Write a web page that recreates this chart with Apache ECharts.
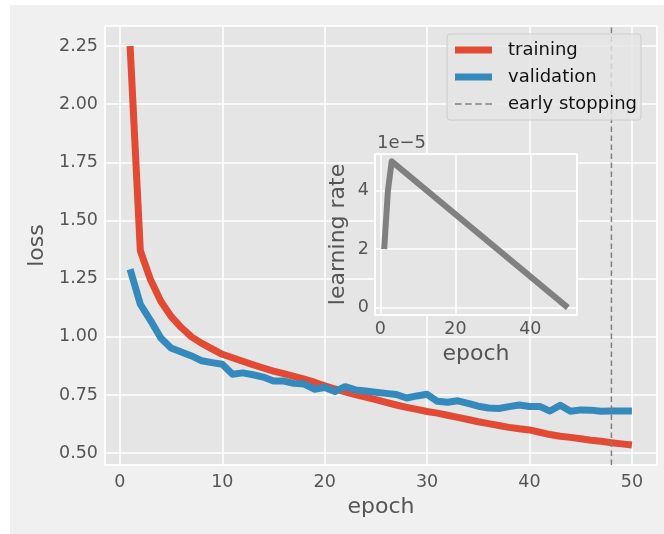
<!DOCTYPE html>
<html>
<head>
<meta charset="utf-8">
<script src="https://cdn.jsdelivr.net/npm/echarts@6/dist/echarts.min.js"></script>
<style>html,body{margin:0;padding:0;background:#fff}#chart{width:664px;height:534px}</style>
</head>
<body>
<div id="chart"></div>
<script>
const epochs = [1,2,3,4,5,6,7,8,9,10,11,12,13,14,15,16,17,18,19,20,21,22,23,24,25,26,27,28,29,30,31,32,33,34,35,36,37,38,39,40,41,42,43,44,45,46,47,48,49,50];
const trainingLoss = [2.25,1.37,1.245,1.153,1.088,1.04,1.0,0.972,0.948,0.925,0.91,0.895,0.88,0.866,0.853,0.842,0.83,0.818,0.805,0.79,0.776,0.764,0.752,0.741,0.73,0.718,0.707,0.697,0.688,0.679,0.672,0.663,0.654,0.645,0.635,0.627,0.619,0.611,0.605,0.6,0.59,0.58,0.573,0.568,0.562,0.556,0.551,0.545,0.54,0.535];
const validationLoss = [1.29,1.14,1.07,0.995,0.952,0.935,0.918,0.897,0.889,0.882,0.839,0.845,0.837,0.827,0.81,0.81,0.8,0.797,0.775,0.782,0.765,0.786,0.772,0.767,0.762,0.757,0.752,0.737,0.746,0.753,0.723,0.719,0.725,0.714,0.702,0.694,0.692,0.7,0.707,0.701,0.701,0.681,0.706,0.68,0.686,0.685,0.68,0.681,0.681,0.681];
const earlyStopEpoch = 48;
const lrEpochs = [1,2,3,50];
const lrValues = [2.0,4.0,5.0,0.0]; // x 1e-5
const lossXTicks = [0,10,20,30,40,50];
const lossYTicks = [0.50,0.75,1.00,1.25,1.50,1.75,2.00,2.25];
const lrXTicks = [0,20,40];
const lrYTicks = [0,2,4];
const lrOffsetText = '1e\u22125';
const seriesNames = ['training','validation','early stopping'];

const FONT = 'DejaVu Sans';
const TXT = '#555555';
function pad(lo, hi){ const m = (hi-lo)*0.05; return [lo-m, hi+m]; }
const xExt = pad(Math.min(...epochs), Math.max(...epochs));
const yExt = pad(Math.min(...trainingLoss, ...validationLoss), Math.max(...trainingLoss, ...validationLoss));
const lrXExt = pad(Math.min(...lrEpochs), Math.max(...lrEpochs));
const lrYExt = pad(Math.min(...lrValues), Math.max(...lrValues));
const has = (arr, v) => arr.some(t => Math.abs(t - v) < 1e-6);

const chart = echarts.init(document.getElementById('chart'), null, {renderer:'canvas'});
const splitLine = {show:true, lineStyle:{color:'#ffffff', width:1.5}};
const option = {
  backgroundColor:'#ffffff',
  animation:false,
  textStyle:{fontFamily:FONT},
  graphic:[
    {type:'rect', left:10, top:5, z:-100, shape:{width:654, height:529}, style:{fill:'#F0F0F0'}},
    {type:'text', x:377, y:143.5, z:20, style:{text:lrOffsetText, fill:TXT, font:'18px "DejaVu Sans"', align:'left', verticalAlign:'middle'}}
  ],
  grid:[
    {left:105, top:26, width:552, height:439, show:true, backgroundColor:'#E5E5E5', borderColor:'#ffffff', borderWidth:1, z:0},
    {left:375, top:154, width:202, height:161, show:true, backgroundColor:'#E5E5E5', borderColor:'#ffffff', borderWidth:1.5, z:5}
  ],
  legend:{
    orient:'vertical', left:447, top:34,
    padding:[7,4,7,8], itemGap:9, itemWidth:37, itemHeight:14,
    backgroundColor:'rgba(229,229,229,0.8)', borderColor:'#cccccc', borderWidth:1, borderRadius:3,
    itemStyle:{borderWidth:0},
    textStyle:{fontSize:18, color:'#111111', fontFamily:FONT, padding:[0,0,0,11]},
    data:[
      {name:seriesNames[0], icon:'path://M0,0h37v7h-37z'},
      {name:seriesNames[1], icon:'path://M0,0h37v7h-37z'},
      {name:seriesNames[2], icon:'path://M0,0h6.5v1.5h-6.5zM10,0h6.5v1.5h-6.5zM20,0h6.5v1.5h-6.5zM30,0h6.5v1.5h-6.5z'}
    ],
    z:30
  },
  xAxis:[
    {type:'value', gridIndex:0, min:xExt[0], max:xExt[1], splitNumber:5, minInterval:10, maxInterval:10,
     axisLine:{show:false}, axisTick:{show:false}, splitLine:splitLine,
     axisLabel:{color:TXT, fontSize:17.5, fontFamily:FONT, margin:8, showMinLabel:true, showMaxLabel:true,
       formatter:v => has(lossXTicks, v) ? String(Math.round(v)) : ''},
     name:'epoch', nameLocation:'middle', nameGap:30, nameTextStyle:{color:TXT, fontSize:22, fontFamily:FONT}},
    {type:'value', gridIndex:1, min:lrXExt[0], max:lrXExt[1], splitNumber:3, minInterval:20, maxInterval:20, z:6,
     axisLine:{show:false}, axisTick:{show:false}, splitLine:splitLine,
     axisLabel:{color:TXT, fontSize:17.5, fontFamily:FONT, margin:5,
       formatter:v => has(lrXTicks, v) ? String(Math.round(v)) : ''},
     name:'epoch', nameLocation:'middle', nameGap:28, nameTextStyle:{color:TXT, fontSize:22, fontFamily:FONT}}
  ],
  yAxis:[
    {type:'value', gridIndex:0, min:yExt[0], max:yExt[1], splitNumber:7, minInterval:0.25, maxInterval:0.25,
     axisLine:{show:false}, axisTick:{show:false}, splitLine:splitLine,
     axisLabel:{color:TXT, fontSize:17.5, fontFamily:FONT, margin:7,
       formatter:v => has(lossYTicks, v) ? v.toFixed(2) : ''},
     name:'loss', nameLocation:'middle', nameGap:54, nameTextStyle:{color:TXT, fontSize:22, fontFamily:FONT}},
    {type:'value', gridIndex:1, min:lrYExt[0], max:lrYExt[1], splitNumber:3, minInterval:2, maxInterval:2, z:6,
     axisLine:{show:false}, axisTick:{show:false}, splitLine:splitLine,
     axisLabel:{color:TXT, fontSize:17.5, fontFamily:FONT, margin:6,
       formatter:v => has(lrYTicks, v) ? String(Math.round(v)) : ''},
     name:'learning rate', nameLocation:'middle', nameGap:26, nameTextStyle:{color:TXT, fontSize:22, fontFamily:FONT}}
  ],
  series:[
    {name:seriesNames[0], type:'line', xAxisIndex:0, yAxisIndex:0, symbol:'none', z:2,
     data:epochs.map((e,i)=>[e, trainingLoss[i]]),
     itemStyle:{color:'#E24A33'}, lineStyle:{color:'#E24A33', width:7, join:'round', cap:'butt'}},
    {name:seriesNames[1], type:'line', xAxisIndex:0, yAxisIndex:0, symbol:'none', z:3,
     data:epochs.map((e,i)=>[e, validationLoss[i]]),
     itemStyle:{color:'#348ABD'}, lineStyle:{color:'#348ABD', width:7, join:'round', cap:'butt'}},
    {name:seriesNames[2], type:'line', xAxisIndex:0, yAxisIndex:0, symbol:'none', z:4,
     data:[[earlyStopEpoch, yExt[0]],[earlyStopEpoch, yExt[1]]],
     itemStyle:{color:'#7f7f7f'}, lineStyle:{color:'#7f7f7f', width:1.5, type:[5.5,3.5]}},
    {name:'lr', type:'line', xAxisIndex:1, yAxisIndex:1, symbol:'none', z:7,
     data:lrEpochs.map((e,i)=>[e, lrValues[i]]),
     itemStyle:{color:'#808080'}, lineStyle:{color:'#808080', width:6, join:'round', cap:'butt'}}
  ]
};
chart.setOption(option);
</script>
</body>
</html>
